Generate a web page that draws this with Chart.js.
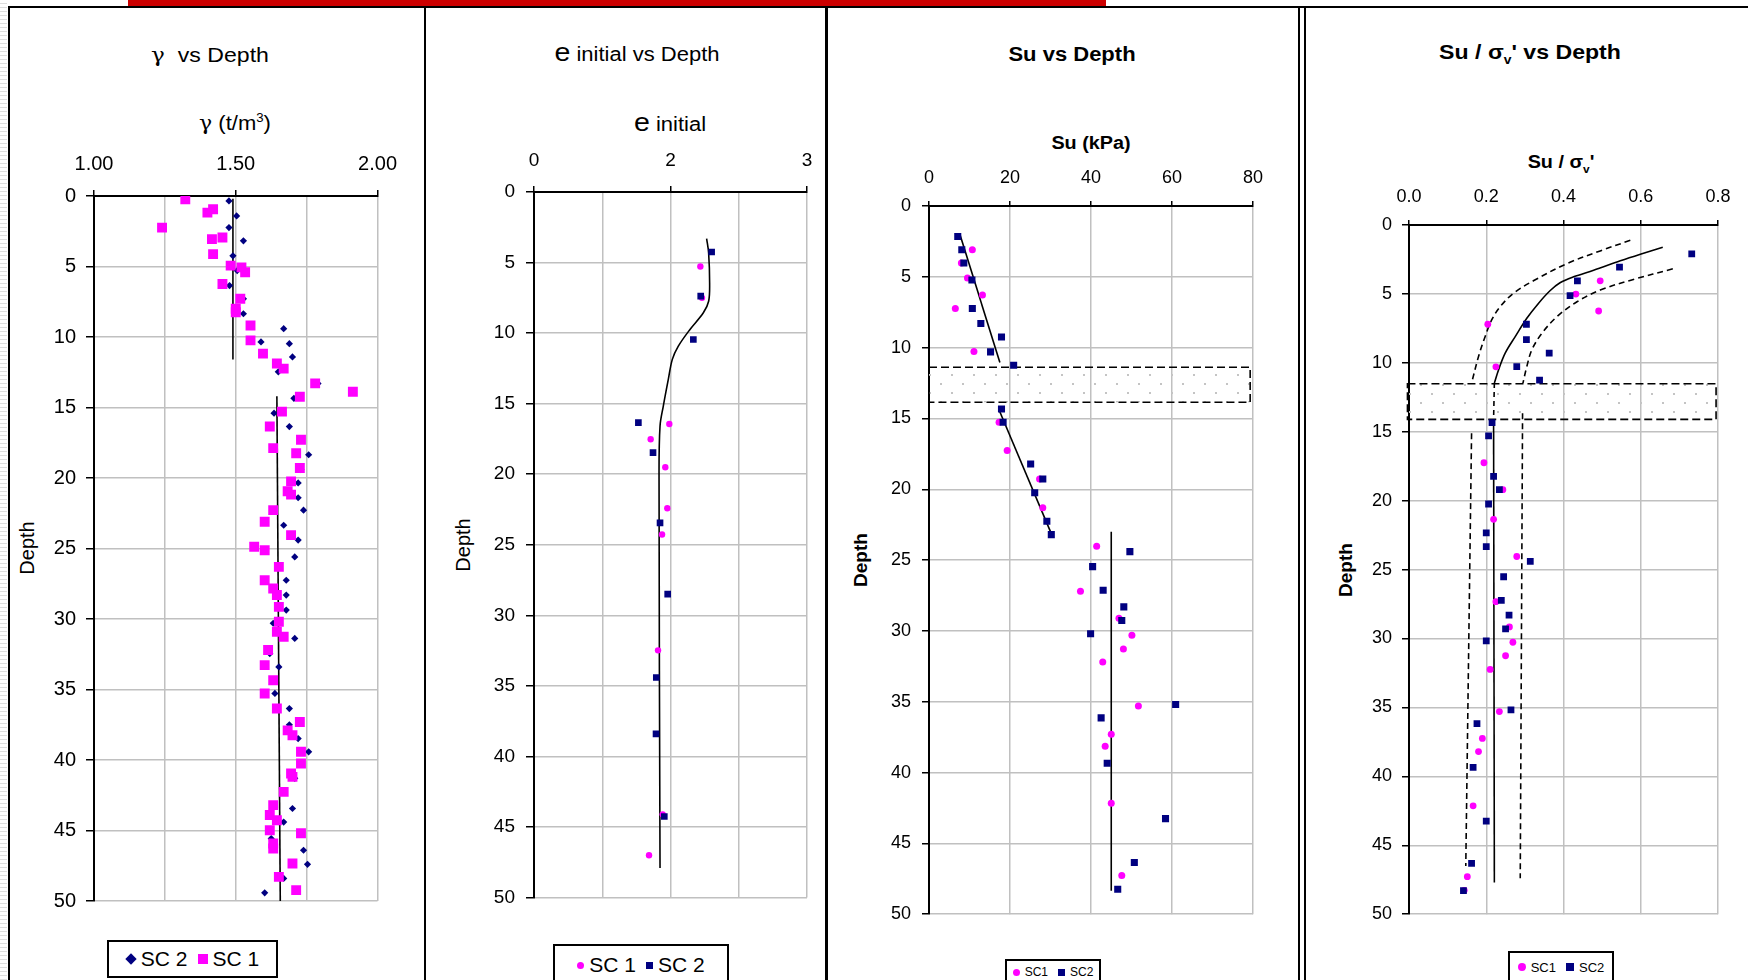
<!DOCTYPE html>
<html>
<head>
<meta charset="utf-8">
<script src="https://cdn.jsdelivr.net/npm/chart.js@4.4.1/dist/chart.umd.min.js"></script>
<style>
body { margin: 0; width: 1748px; height: 980px; position: relative; overflow: hidden; background: #fff;
       font-family: "Liberation Sans", Arial, sans-serif; color: #000; }
canvas { position: absolute; }
.vline { position: absolute; top: 6px; bottom: 0; width: 2px; background: #000; }
.title { position: absolute; white-space: nowrap; line-height: 1; transform: translate(-50%, -50%) scaleX(1.1); }
.ytitle { position: absolute; white-space: nowrap; line-height: 1; transform: translate(-50%, -50%) rotate(-90deg); }
.bold { font-weight: bold; }
.title sup, .title sub { font-size: 0.6em; line-height: 0; }
.big { font-size: 1.3em; }
.greek { font-family: "DejaVu Serif", serif; }
.legend { position: absolute; border: 2px solid #000; background: #fff; box-sizing: border-box;
          display: flex; align-items: center; justify-content: center; white-space: nowrap; }
</style>
</head>
<body>
<div style="position:absolute;left:0;top:0;width:7px;height:980px;background:repeating-linear-gradient(#fff 0 3px,#ddd 3px 4px);"></div>
<div style="position:absolute;left:128px;top:0;width:978px;height:6px;background:#cc0000;"></div>
<div style="position:absolute;left:8px;top:6px;right:0;height:2px;background:#000;"></div>
<div class="vline" style="left:8px"></div>
<div class="vline" style="left:424px"></div>
<div class="vline" style="left:825px;width:3px"></div>
<div class="vline" style="left:1298px"></div>
<div class="vline" style="left:1304px"></div>

<div class="title" style="left:210px;top:55px;font-size:21px"><span class="greek">γ</span>&nbsp; vs Depth</div>
<div class="title" style="left:235px;top:123px;font-size:20px"><span class="greek">γ</span> (t/m<sup>3</sup>)</div>
<div class="ytitle" style="left:27px;top:548px;font-size:20px">Depth</div>

<div class="title" style="left:637px;top:52px;font-size:20px"><span class="big">e</span> initial vs Depth</div>
<div class="title" style="left:670px;top:122px;font-size:20px"><span class="big">e</span> initial</div>
<div class="ytitle" style="left:463px;top:545px;font-size:20px">Depth</div>

<div class="title bold" style="left:1072px;top:54px;font-size:20px">Su vs Depth</div>
<div class="title bold" style="left:1091px;top:143px;font-size:18px">Su (kPa)</div>
<div class="ytitle bold" style="left:860px;top:560px;font-size:19px">Depth</div>

<div class="title bold" style="left:1530px;top:51px;font-size:21px">Su / σ<sub>v</sub>' vs Depth</div>
<div class="title bold" style="left:1561px;top:162px;font-size:18px">Su / σ<sub>v</sub>'</div>
<div class="ytitle bold" style="left:1345px;top:570px;font-size:19px">Depth</div>

<canvas id="gammaChart"></canvas>
<canvas id="eChart"></canvas>
<canvas id="suChart"></canvas>
<canvas id="ratioChart"></canvas>

<div id="gammaLegend" class="legend" style="left:107px;top:940px;width:171px;height:38px;font-size:21px"></div>
<div id="eLegend" class="legend" style="left:553px;top:944px;width:176px;height:42px;font-size:21px"></div>
<div id="suLegend" class="legend" style="left:1005px;top:959px;width:96px;height:26px;font-size:12px"></div>
<div id="ratioLegend" class="legend" style="left:1508px;top:951px;width:106px;height:32px;font-size:13px"></div>

<script>
// axis ranges: [min, max, step]
const depthRange = [0, 50, 5];
const gammaRange = [1, 2, 0.25];
const eRange = [0, 3, 0.75];
const suRange = [0, 80, 20];
const ratioRange = [0, 0.8, 0.2];

// unit weight, [gamma, depth]
const gammaSC1 = [[1.322,0.24],[1.42,0.94],[1.40,1.18],[1.24,2.24],[1.453,2.94],[1.416,3.06],[1.42,4.12],[1.482,4.94],
  [1.52,5.06],[1.533,5.41],[1.453,6.24],[1.516,7.29],[1.50,8.0],[1.50,8.24],[1.552,9.18],[1.552,10.24],[1.596,11.18],
  [1.645,11.88],[1.669,12.24],[1.78,13.29],[1.913,13.88],[1.726,14.24],[1.663,15.29],[1.62,16.35],[1.73,17.29],
  [1.632,17.88],[1.713,18.24],[1.726,19.29],[1.695,20.24],[1.683,20.94],[1.695,21.18],[1.632,22.28],[1.602,23.1],
  [1.695,24.05],[1.565,24.88],[1.602,25.12],[1.652,26.3],[1.602,27.25],[1.632,27.84],[1.645,28.3],[1.652,29.14],
  [1.652,30.2],[1.645,30.9],[1.669,31.26],[1.614,32.2],[1.602,33.27],[1.632,34.34],[1.602,35.28],[1.645,36.35],
  [1.726,37.3],[1.683,37.9],[1.70,38.24],[1.73,39.42],[1.73,40.25],[1.695,40.96],[1.70,41.2],[1.669,42.26],
  [1.632,43.2],[1.62,43.9],[1.645,44.27],[1.62,44.98],[1.73,45.2],[1.632,45.92],[1.632,46.28],[1.70,47.34],
  [1.652,48.29],[1.713,49.23]];
const gammaSC2 = [[1.476,0.35],[1.503,1.41],[1.476,2.24],[1.527,3.18],[1.49,4.24],[1.505,5.29],[1.478,6.35],
  [1.527,7.29],[1.527,8.35],[1.669,9.41],[1.589,10.35],[1.689,10.47],[1.70,11.41],[1.65,12.47],[1.79,13.3],
  [1.705,14.35],[1.635,15.4],[1.689,16.35],[1.757,18.35],[1.73,19.4],[1.72,20.35],[1.72,21.4],[1.739,22.28],
  [1.669,23.35],[1.72,24.4],[1.708,25.6],[1.678,27.25],[1.678,28.3],[1.678,29.37],[1.632,30.3],[1.708,31.38],
  [1.62,32.45],[1.652,33.4],[1.638,35.28],[1.689,36.35],[1.689,37.5],[1.72,38.48],[1.757,39.42],[1.708,41.3],
  [1.70,43.44],[1.669,44.4],[1.625,45.57],[1.739,46.4],[1.753,47.4],[1.669,48.4],[1.602,49.42]];
const gammaTrendTop = [[1.49,0.2],[1.49,11.6]];
const gammaTrendBottom = [[1.645,14.2],[1.657,50]];

// initial void ratio, [e, depth]
const eSC1 = [[1.828,5.28],[1.846,7.5],[1.487,16.44],[1.282,17.52],[1.443,19.5],[1.465,22.41],[1.407,24.27],
  [1.363,32.48],[1.414,44.1],[1.264,47.0]];
const eSC2 = [[1.952,4.25],[1.832,7.38],[1.751,10.45],[1.147,16.34],[1.308,18.47],[1.385,23.45],[1.469,28.5],
  [1.344,34.4],[1.341,38.4],[1.432,44.25]];
const eTrend = [[1.897,3.3],[1.919,4.32],[1.93,6.44],[1.919,7.74],[1.861,8.56],[1.714,9.74],[1.586,10.92],
  [1.52,11.86],[1.476,13.28],[1.421,15.17],[1.385,16.58],[1.374,20.0],[1.385,47.9]];

// undrained strength, [Su, depth]
const suSC1 = [[10.7,3.09],[8.0,4.03],[9.5,5.08],[13.2,6.28],[6.5,7.24],[11.1,10.28],[17.3,15.27],[19.3,17.26],
  [27.3,19.27],[28.1,21.3],[41.4,24.02],[37.4,27.2],[46.9,29.1],[50.1,30.3],[48.0,31.27],[42.9,32.2],[51.7,35.3],
  [45.0,37.3],[43.5,38.14],[45.0,42.16],[47.6,47.27]];
const suSC2 = [[7.1,2.15],[8.1,3.09],[8.6,4.03],[10.6,5.22],[10.7,7.24],[12.8,8.29],[17.9,9.25],[15.2,10.3],
  [20.9,11.24],[17.9,14.33],[18.3,15.27],[25.1,18.22],[28.1,19.27],[26.1,20.24],[29.1,22.26],[30.2,23.2],
  [49.6,24.4],[40.4,25.46],[43.0,27.13],[48.1,28.3],[47.6,29.27],[39.9,30.2],[60.9,35.2],[42.5,36.14],
  [44.0,39.34],[58.4,43.25],[50.7,46.35],[46.6,48.24]];
const suTrend1 = [[7.7,2.06],[17.5,11.05]];
const suTrend2 = [[17.2,14.33],[30.2,23.13]];
const suTrend3 = [[45.0,23.0],[45.0,48.35]];
const suBand = [0, 79.3, 11.38, 13.86];   // xMin, xMax, depthTop, depthBottom

// Su / sigma'v, [ratio, depth]
const ratioSC1 = [[0.432,5.01],[0.495,4.05],[0.491,6.24],[0.204,7.2],[0.225,10.29],[0.194,17.25],[0.243,19.2],
  [0.219,21.35],[0.279,24.05],[0.225,27.33],[0.26,29.16],[0.269,30.27],[0.25,31.25],[0.21,32.24],[0.234,35.3],
  [0.19,37.25],[0.18,38.2],[0.166,42.14],[0.151,47.28],[0.143,48.27]];
const ratioSC2 = [[0.732,2.1],[0.545,3.06],[0.436,4.05],[0.417,5.13],[0.304,7.2],[0.304,8.31],[0.363,9.3],
  [0.279,10.27],[0.338,11.25],[0.215,14.34],[0.206,15.3],[0.219,18.24],[0.234,19.2],[0.206,20.24],[0.2,22.34],
  [0.2,23.33],[0.314,24.41],[0.245,25.52],[0.239,27.23],[0.259,28.31],[0.25,29.3],[0.2,30.17],[0.264,35.18],
  [0.176,36.17],[0.166,39.35],[0.2,43.25],[0.162,46.31],[0.141,48.29]];
const ratioMeanCurve = [[0.657,1.61],[0.599,2.12],[0.547,2.6],[0.478,3.28],[0.426,3.76],[0.391,4.19],[0.365,4.77],
  [0.335,5.69],[0.305,6.77],[0.275,8.1],[0.249,9.3],[0.232,10.5],[0.221,11.47]];
const ratioMeanBand = [[0.221,11.47],[0.219,14.1]];
const ratioMeanDeep = [[0.219,14.1],[0.221,47.7]];
const ratioLowCurve = [[0.573,1.11],[0.495,1.88],[0.409,2.8],[0.322,4.05],[0.27,4.96],[0.236,5.93],[0.214,6.89],
  [0.197,8.1],[0.18,9.54],[0.162,11.47]];
const ratioLowDeep = [[0.162,15.1],[0.147,46.5]];
const ratioHighCurve = [[0.683,3.18],[0.581,3.95],[0.495,4.72],[0.435,5.57],[0.383,6.65],[0.344,7.86],
  [0.318,9.06],[0.305,10.27],[0.295,11.47]];
const ratioHighDeep = [[0.294,13.65],[0.288,47.4]];
const ratioBand = [-0.004, 0.795, 11.52, 14.1];

const MAGENTA = '#ff00ff';
const NAVY = '#000080';
const FONT = '"Liberation Sans", Arial, sans-serif';
const AXIS_W = 60, AXIS_H = 60, PAD_R = 30, PAD_B = 20;

const pts = arr => arr.map(([x, y]) => ({ x, y }));

function markers(label, data, color, style, radius) {
    return { label, data: pts(data), backgroundColor: color, borderColor: color, borderWidth: 0,
             pointStyle: style, pointRadius: radius, pointHoverRadius: radius, showLine: false };
}

function line(data, dash, tension) {
    return { data: pts(data), showLine: true, pointRadius: 0, borderColor: '#000', borderWidth: 1.6,
             borderDash: dash || [], tension: tension || 0, fill: false };
}

// staggered light grey dots, like the Excel pattern fill
function dotPattern(ctx) {
    const c = document.createElement('canvas');
    c.width = 22; c.height = 18;
    const g = c.getContext('2d');
    g.fillStyle = '#c4c4c4';
    g.fillRect(5, 3, 2, 2);
    g.fillRect(16, 12, 2, 2);
    return ctx.createPattern(c, 'repeat');
}

// dotted band with dashed outline, drawn under the points
const bandPlugin = {
    id: 'band',
    beforeDatasetsDraw(chart, args, opts) {
        if (!opts.range) return;
        const { ctx, scales: { x, y } } = chart;
        const [x0v, x1v, y0v, y1v] = opts.range;
        const x0 = x.getPixelForValue(x0v), x1 = x.getPixelForValue(x1v);
        const y0 = y.getPixelForValue(y0v), y1 = y.getPixelForValue(y1v);
        ctx.save();
        ctx.fillStyle = dotPattern(ctx);
        ctx.fillRect(x0, y0, x1 - x0, y1 - y0);
        ctx.setLineDash([8, 4]);
        ctx.lineWidth = 1.6;
        ctx.strokeStyle = '#000';
        ctx.strokeRect(x0, y0, x1 - x0, y1 - y0);
        ctx.restore();
    }
};

function makeChart(cfg) {
    const canvas = document.getElementById(cfg.id);
    const [l, t, r, b] = cfg.area;
    canvas.width = r - l + AXIS_W + PAD_R;
    canvas.height = b - t + AXIS_H + PAD_B;
    canvas.style.left = (l - AXIS_W) + 'px';
    canvas.style.top = (t - AXIS_H) + 'px';

    const tickColor = c => (c.tick && c.tick.label === '') ? 'rgba(0,0,0,0)' : '#000';

    return new Chart(canvas, {
        type: 'scatter',
        data: { datasets: cfg.datasets },
        plugins: [bandPlugin],
        options: {
            responsive: false,
            animation: false,
            layout: { padding: { left: 0, top: 0, right: PAD_R, bottom: PAD_B } },
            plugins: { legend: { display: false }, tooltip: { enabled: false }, band: { range: cfg.band } },
            scales: {
                x: {
                    type: 'linear', position: 'top',
                    min: cfg.xRange[0], max: cfg.xRange[1],
                    ticks: { stepSize: cfg.xRange[2], autoSkip: false, maxRotation: 0, color: '#000',
                             padding: cfg.xPad, font: { family: FONT, size: cfg.fontSize }, callback: cfg.xFormat },
                    grid: { color: '#c0c0c0', lineWidth: 1.5, tickLength: cfg.xTick, tickColor, tickWidth: 1.5 },
                    border: { color: '#000', width: 2 },
                    afterFit: s => { s.height = AXIS_H; }
                },
                y: {
                    type: 'linear', reverse: true,
                    min: depthRange[0], max: depthRange[1],
                    ticks: { stepSize: depthRange[2], autoSkip: false, color: '#000',
                             padding: cfg.yPad, font: { family: FONT, size: cfg.fontSize } },
                    grid: { color: '#c0c0c0', lineWidth: 1.5, tickLength: cfg.yTick, tickColor: '#000', tickWidth: 1.5 },
                    border: { color: '#000', width: 2 },
                    afterFit: s => { s.width = AXIS_W; }
                }
            }
        }
    });
}

function buildLegend(chart, elId, order, size) {
    const box = document.getElementById(elId);
    order.forEach((idx, n) => {
        const ds = chart.data.datasets[idx];
        const m = document.createElement('span');
        m.style.display = 'inline-block';
        m.style.width = m.style.height = size + 'px';
        m.style.background = ds.backgroundColor;
        m.style.margin = n === 0 ? '0 5px 0 0' : '0 5px 0 10px';
        if (ds.pointStyle === 'circle') m.style.borderRadius = '50%';
        if (ds.pointStyle === 'rectRot') m.style.transform = 'rotate(45deg) scale(0.8)';
        box.appendChild(m);
        const txt = document.createElement('span');
        txt.textContent = ds.label;
        box.appendChild(txt);
    });
}

const gammaChart = makeChart({
    id: 'gammaChart', area: [94, 196, 381, 903], xRange: gammaRange, fontSize: 20,
    xPad: 14, yPad: 10, xTick: 6, yTick: 8,
    xFormat: (v, i) => i % 2 ? '' : Number(v).toFixed(2),
    datasets: [
        markers('SC 1', gammaSC1, MAGENTA, 'rect', 7),
        markers('SC 2', gammaSC2, NAVY, 'rectRot', 3.6),
        line(gammaTrendTop), line(gammaTrendBottom)
    ]
});
buildLegend(gammaChart, 'gammaLegend', [1, 0], 10);

const eChart = makeChart({
    id: 'eChart', area: [534, 192, 807, 900], xRange: eRange, fontSize: 19,
    xPad: 14, yPad: 11, xTick: 6, yTick: 8,
    xFormat: (v, i) => i % 2 ? '' : Number(v).toFixed(0),
    datasets: [
        markers('SC 2', eSC2, NAVY, 'rect', 4.7),
        markers('SC 1', eSC1, MAGENTA, 'circle', 3.2),
        line(eTrend, [], 0.35)
    ]
});
buildLegend(eChart, 'eLegend', [1, 0], 7);

const suChart = makeChart({
    id: 'suChart', area: [929, 206, 1253, 916], xRange: suRange, fontSize: 18,
    xPad: 12, yPad: 11, xTick: 5, yTick: 7,
    xFormat: v => v,
    band: suBand,
    datasets: [
        markers('SC2', suSC2, NAVY, 'rect', 5),
        markers('SC1', suSC1, MAGENTA, 'circle', 3.5),
        line(suTrend1), line(suTrend2), line(suTrend3)
    ]
});
buildLegend(suChart, 'suLegend', [1, 0], 7);

const ratioChart = makeChart({
    id: 'ratioChart', area: [1409, 225, 1718, 915], xRange: ratioRange, fontSize: 18,
    xPad: 12, yPad: 10, xTick: 5, yTick: 7,
    xFormat: v => Number(v).toFixed(1),
    band: ratioBand,
    datasets: [
        markers('SC2', ratioSC2, NAVY, 'rect', 4.8),
        markers('SC1', ratioSC1, MAGENTA, 'circle', 3.4),
        line(ratioMeanCurve, [], 0.35), line(ratioMeanBand, [5, 4]), line(ratioMeanDeep),
        line(ratioLowCurve, [6, 4], 0.35), line(ratioLowDeep, [6, 4]),
        line(ratioHighCurve, [6, 4], 0.35), line(ratioHighDeep, [6, 4])
    ]
});
buildLegend(ratioChart, 'ratioLegend', [1, 0], 8);
</script>
</body>
</html>
